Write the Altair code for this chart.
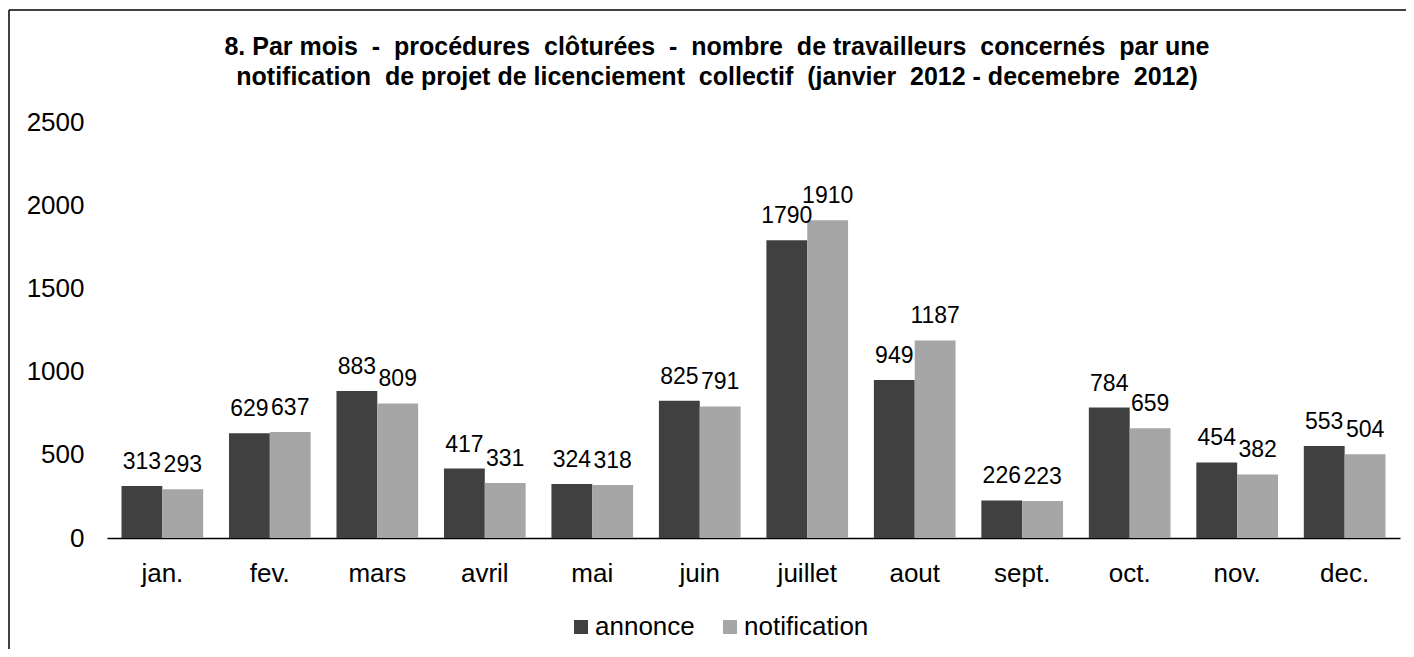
import altair as alt
import pandas as pd

months = ["jan.", "fev.", "mars", "avril", "mai", "juin", "juillet", "aout", "sept.", "oct.", "nov.", "dec."]
annonce = [313, 629, 883, 417, 324, 825, 1790, 949, 226, 784, 454, 553]
notification = [293, 637, 809, 331, 318, 791, 1910, 1187, 223, 659, 382, 504]
series = ["annonce", "notification"]
colors = ["#404040", "#a6a6a6"]
y_ticks = [0, 500, 1000, 1500, 2000, 2500]
S = "\u00a0"
title_lines = [
    f"8. Par mois {S}-{S} procédures {S}clôturées {S}-{S} nombre {S}de travailleurs {S}concernés {S}par une",
    f"notification {S}de projet de licenciement {S}collectif {S}(janvier {S}2012 - decemebre {S}2012)",
]

rows = []
for i, m in enumerate(months):
    rows.append({"mois": m, "serie": series[0], "valeur": annonce[i]})
    rows.append({"mois": m, "serie": series[1], "valeur": notification[i]})
df = pd.DataFrame(rows)

FONT = "Liberation Sans"
W, H = 1293, 416

x_enc = alt.X(
    "mois:N",
    sort=months,
    scale=alt.Scale(paddingInner=0.24, paddingOuter=0.135),
    axis=alt.Axis(
        title=None, labelAngle=0, ticks=False, domainColor="#000000", domainWidth=1.5,
        labelFontSize=26, labelColor="#000000", labelPadding=22, labelFont=FONT,
    ),
)
xo_enc = alt.XOffset("serie:N", sort=series, scale=alt.Scale(paddingInner=0, paddingOuter=0))
y_enc = alt.Y(
    "valeur:Q",
    scale=alt.Scale(domain=[0, 2500], nice=False),
    axis=alt.Axis(
        title=None, values=y_ticks, format="d", domain=False, ticks=False, grid=False,
        labelFontSize=26, labelColor="#000000", labelPadding=23, labelFont=FONT,
    ),
)
color_enc = alt.Color(
    "serie:N",
    sort=series,
    scale=alt.Scale(domain=series, range=colors),
    legend=alt.Legend(
        title=None, orient="none", legendX=461, legendY=492, direction="horizontal",
        symbolType="square", symbolSize=196, symbolStrokeWidth=0,
        labelFontSize=26, labelColor="#000000", labelFont=FONT, columnPadding=22, labelOffset=1,
    ),
)

base = alt.Chart(df)
bars = base.mark_bar().encode(x=x_enc, xOffset=xo_enc, y=y_enc, color=color_enc)
labels = base.mark_text(baseline="alphabetic", dy=-17, fontSize=23, color="#000000", font=FONT).encode(
    x=x_enc, xOffset=xo_enc, y=y_enc, text="valeur:Q"
)

one = pd.DataFrame({"k": [0]})
title1 = alt.Chart(one).mark_text(
    fontSize=25, fontWeight="bold", font=FONT, color="#000000", align="center", baseline="middle"
).encode(x=alt.value(610), y=alt.value(-75), text=alt.value(title_lines[0]))
title2 = alt.Chart(one).mark_text(
    fontSize=25, fontWeight="bold", font=FONT, color="#000000", align="center", baseline="middle"
).encode(x=alt.value(610), y=alt.value(-45), text=alt.value(title_lines[1]))

top_line = alt.Chart(one).mark_rule(color="#000000", strokeWidth=1.5).encode(
    x=alt.value(-98), x2=alt.value(1300), y=alt.value(-112)
)
left_line = alt.Chart(one).mark_rule(color="#000000", strokeWidth=1.5).encode(
    x=alt.value(-98), y=alt.value(-112), y2=alt.value(540)
)

chart = (
    alt.layer(bars, labels, title1, title2, top_line, left_line)
    .properties(
        width=W,
        height=H,
        autosize=alt.AutoSizeParams(type="none"),
        padding={"left": 99, "top": 114, "right": 6, "bottom": 111},
    )
    .configure(font=FONT, background="#ffffff")
    .configure_view(strokeWidth=0, stroke="transparent")
)

chart.save("out.html", embed_options={"renderer": "svg", "actions": False})
